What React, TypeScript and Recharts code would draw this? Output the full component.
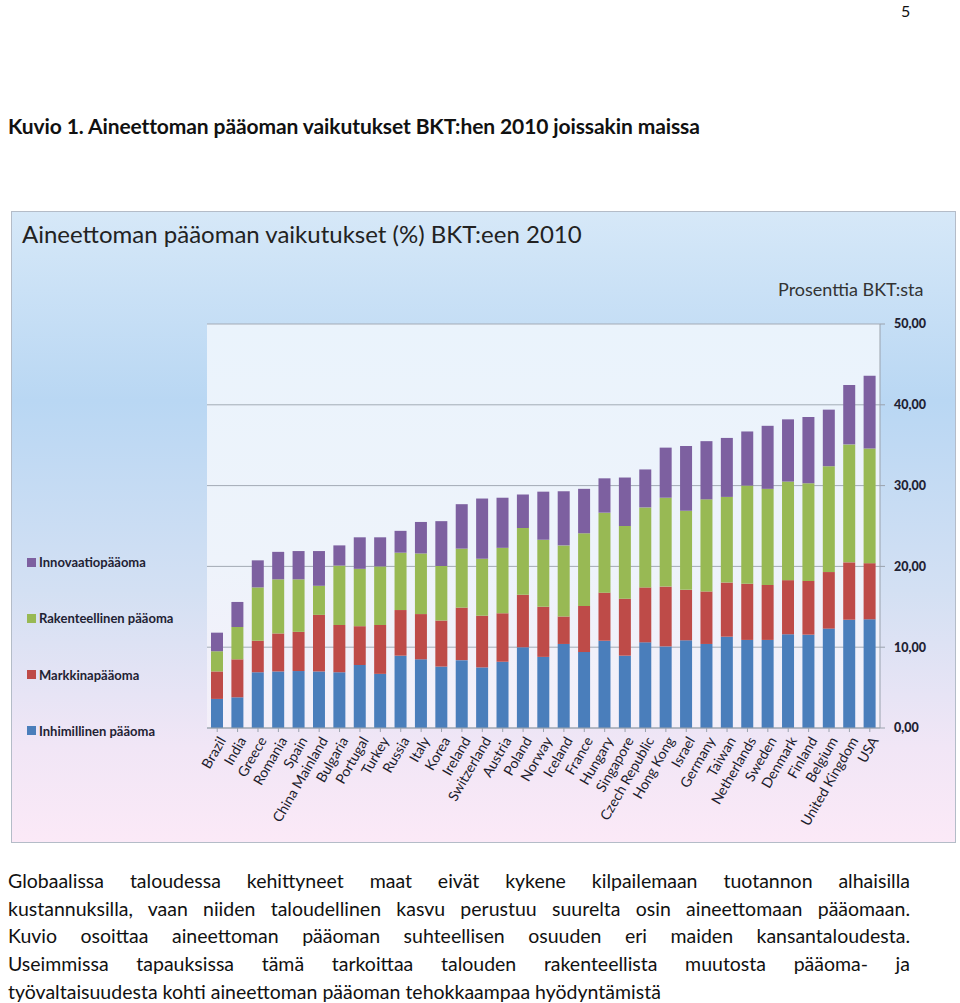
import React from "react";
import { BarChart, Bar, XAxis, YAxis, CartesianGrid } from "recharts";

// Countries, ordered by total intangible capital share of GDP (2010)
const COUNTRIES = [
  "Brazil", "India", "Greece", "Romania", "Spain", "China Mainland", "Bulgaria",
  "Portugal", "Turkey", "Russia", "Italy", "Korea", "Ireland", "Switzerland",
  "Austria", "Poland", "Norway", "Iceland", "France", "Hungary", "Singapore",
  "Czech Republic", "Hong Kong", "Israel", "Germany", "Taiwan", "Netherlands",
  "Sweden", "Denmark", "Finland", "Belgium", "United Kingdom", "USA",
];

// % of GDP, stacked bottom -> top
const INHIMILLINEN = [
  3.6, 3.8, 6.9, 7.0, 7.05, 7.0, 6.9, 7.8, 6.7, 8.95, 8.5, 7.6, 8.4, 7.5, 8.2,
  10.0, 8.8, 10.4, 9.4, 10.8, 8.95, 10.6, 10.1, 10.85, 10.4, 11.3, 10.9, 10.9,
  11.6, 11.55, 12.3, 13.4, 13.45,
];
const MARKKINA = [
  3.4, 4.7, 3.9, 4.7, 4.85, 7.0, 5.85, 4.8, 6.05, 5.65, 5.6, 5.7, 6.5, 6.4, 6.0,
  6.5, 6.2, 3.4, 5.7, 5.95, 7.05, 6.8, 7.4, 6.25, 6.5, 6.7, 6.95, 6.8, 6.7,
  6.65, 7.0, 7.1, 6.95,
];
const RAKENTEELLINEN = [
  2.5, 4.0, 6.6, 6.7, 6.5, 3.6, 7.35, 7.1, 7.25, 7.1, 7.5, 6.75, 7.3, 7.05, 8.1,
  8.25, 8.3, 8.8, 9.0, 9.9, 9.0, 9.9, 11.0, 9.8, 11.4, 10.6, 12.15, 11.9, 12.2,
  12.1, 13.1, 14.6, 14.2,
];
const INNOVAATIO = [
  2.3, 3.1, 3.35, 3.4, 3.5, 4.3, 2.5, 3.9, 3.6, 2.7, 3.9, 5.55, 5.5, 7.45, 6.2,
  4.15, 5.95, 6.7, 5.5, 4.25, 6.0, 4.7, 6.2, 8.0, 7.2, 7.3, 6.7, 7.8, 7.7, 8.2,
  7.0, 7.35, 9.0,
];

const Y_TICKS = [0, 10, 20, 30, 40, 50];

const SERIES = [
  { key: "inhimillinen", name: "Inhimillinen pääoma", color: "#4a7ebb" },
  { key: "markkina", name: "Markkinapääoma", color: "#be4b48" },
  { key: "rakenteellinen", name: "Rakenteellinen pääoma", color: "#98b954" },
  { key: "innovaatio", name: "Innovaatiopääoma", color: "#7d60a0" },
];

const data = COUNTRIES.map((name, i) => ({
  name,
  inhimillinen: INHIMILLINEN[i],
  markkina: MARKKINA[i],
  rakenteellinen: RAKENTEELLINEN[i],
  innovaatio: INNOVAATIO[i],
}));

const FONT = "Lato, 'Open Sans', sans-serif";

const XTick = ({ x, y, payload }: any) => (
  <g transform={`translate(${x + 5},${y + 4})`}>
    <text
      transform="rotate(-60)"
      textAnchor="end"
      dy="0.35em"
      fontSize={14}
      fill="#1c1c2c"
      fontFamily={FONT}
    >
      {payload.value}
    </text>
  </g>
);

const YTick = ({ x, y, payload }: any) => (
  <text x={x + 7} y={y} dy="0.35em" fontSize={12.5} fontWeight={900} fill="#1f2233" fontFamily={FONT}>
    {payload.value.toFixed(2).replace(".", ",")}
  </text>
);

export default function App() {
  return (
    <div style={{ position: "absolute", left: 0, top: 0, width: 960, height: 1003, overflow: "hidden", background: "#fff", fontFamily: FONT, color: "#111" }}>
      <div style={{ position: "absolute", left: 901, top: 3, fontSize: 16, lineHeight: "16px" }}>5</div>
      <div style={{ position: "absolute", left: 8, top: 113, fontSize: 21, fontWeight: 700, whiteSpace: "nowrap", letterSpacing: -0.1 }}>
        Kuvio 1. Aineettoman pääoman vaikutukset BKT:hen 2010 joissakin maissa
      </div>

      <div
        style={{
          position: "absolute",
          left: 12,
          top: 212,
          width: 943,
          height: 630,
          outline: "1px solid #b4bcc8",
          background: "linear-gradient(180deg, #d6e8f8 0%, #b9d7f3 30%, #d3e0f3 60%, #f1e6f6 85%, #fbe9f7 100%)",
        }}
      >
        <div style={{ position: "absolute", left: 10, top: 7, fontSize: 24, color: "#222", whiteSpace: "nowrap" }}>
          Aineettoman pääoman vaikutukset (%) BKT:een 2010
        </div>
        <div style={{ position: "absolute", left: 766, top: 66, fontSize: 18, color: "#333", whiteSpace: "nowrap" }}>
          Prosenttia BKT:sta
        </div>

        <div style={{ position: "absolute", left: 15, top: 343 }}>
          {[...SERIES].reverse().map((s) => (
            <div key={s.key} style={{ display: "flex", alignItems: "center", height: 14, marginBottom: 42.3, fontSize: 13, fontWeight: 700, color: "#1f2233", whiteSpace: "nowrap" }}>
              <span style={{ width: 9, height: 9, background: s.color, marginRight: 3, display: "inline-block" }} />
              {s.name}
            </div>
          ))}
        </div>

        <BarChart
          width={943}
          height={630}
          data={data}
          margin={{ top: 112, right: 0, left: 195, bottom: 4 }}
          barSize={12}
          style={{ position: "absolute", left: 0, top: 0 }}
        >
          <defs>
            <linearGradient id="plotBg" x1="0" y1="0" x2="0" y2="1">
              <stop offset="0%" stopColor="#eaf3fc" />
              <stop offset="60%" stopColor="#eef3fb" />
              <stop offset="100%" stopColor="#f4eff9" />
            </linearGradient>
          </defs>
          <CartesianGrid vertical={false} stroke="#a3abb5" fill="url(#plotBg)" />
          <XAxis
            dataKey="name"
            interval={0}
            height={110}
            tick={<XTick />}
            tickSize={4}
            axisLine={{ stroke: "#9aa2ad" }}
            tickLine={{ stroke: "#9aa2ad" }}
          />
          <YAxis
            orientation="right"
            width={75}
            domain={[0, 50]}
            ticks={Y_TICKS}
            tick={<YTick />}
            tickSize={5}
            axisLine={{ stroke: "#9aa2ad" }}
            tickLine={{ stroke: "#9aa2ad" }}
          />
          {SERIES.map((s) => (
            <Bar key={s.key} dataKey={s.key} name={s.name} stackId="a" fill={s.color} isAnimationActive={false} />
          ))}
        </BarChart>
      </div>

      <div style={{ position: "absolute", left: 8, top: 867, width: 902, fontSize: 19.5, lineHeight: "27.7px", color: "#111" }}>
        {[
          "Globaalissa taloudessa kehittyneet maat eivät kykene kilpailemaan tuotannon alhaisilla",
          "kustannuksilla, vaan niiden taloudellinen kasvu perustuu suurelta osin aineettomaan pääomaan.",
          "Kuvio osoittaa aineettoman pääoman suhteellisen osuuden eri maiden kansantaloudesta.",
          "Useimmissa tapauksissa tämä tarkoittaa talouden rakenteellista muutosta pääoma- ja",
        ].map((line) => (
          <div key={line} style={{ textAlign: "justify", textAlignLast: "justify", whiteSpace: "nowrap" as any }}>
            {line}
          </div>
        ))}
        <div style={{ whiteSpace: "nowrap" }}>työvaltaisuudesta kohti aineettoman pääoman tehokkaampaa hyödyntämistä</div>
      </div>
    </div>
  );
}
